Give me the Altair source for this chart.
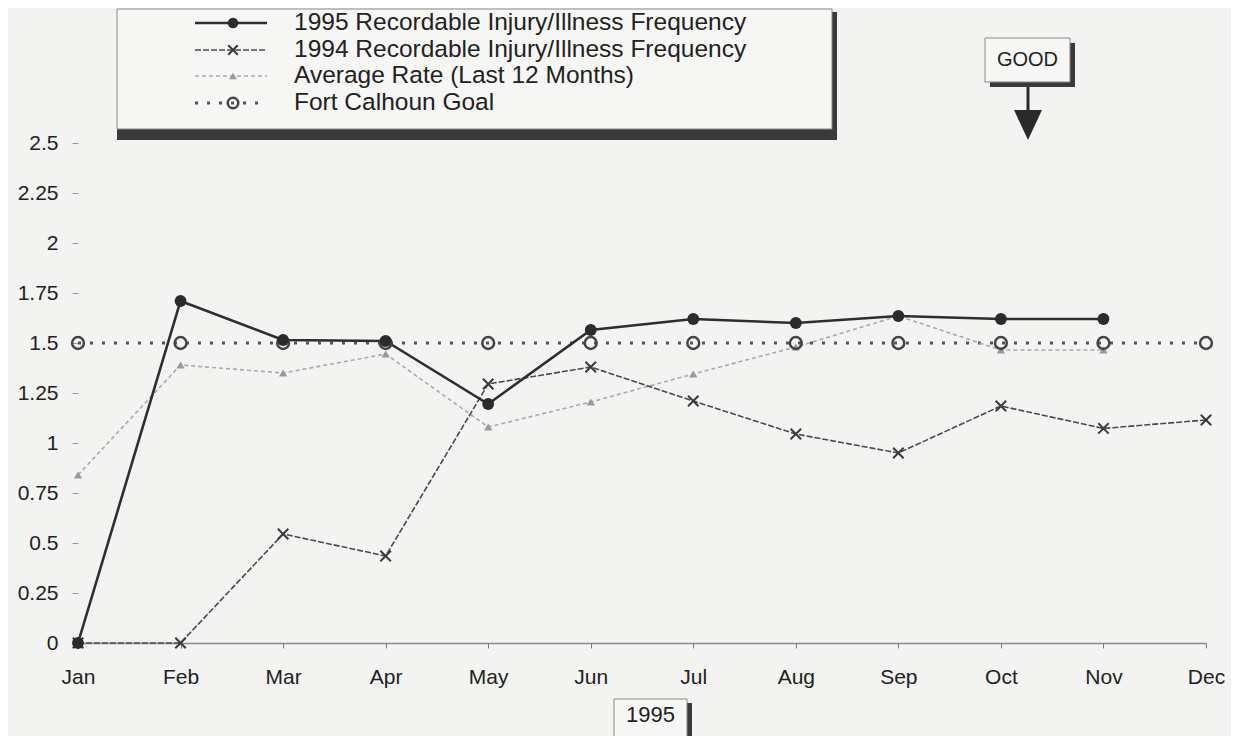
import altair as alt
import pandas as pd

months = ["Jan", "Feb", "Mar", "Apr", "May", "Jun", "Jul", "Aug", "Sep", "Oct", "Nov", "Dec"]
rate_1995 = [0.0, 1.71, 1.515, 1.51, 1.195, 1.565, 1.62, 1.60, 1.635, 1.62, 1.62]
rate_1994 = [0.0, 0.0, 0.545, 0.435, 1.295, 1.38, 1.21, 1.045, 0.95, 1.185, 1.073, 1.115]
avg_12 = [0.84, 1.39, 1.35, 1.445, 1.08, 1.205, 1.345, 1.48, 1.635, 1.465, 1.465]
goal = [1.5, 1.5, 1.5, 1.5, 1.5, 1.5, 1.5, 1.5, 1.5, 1.5, 1.5, 1.5]
y_ticks = [0, 0.25, 0.5, 0.75, 1, 1.25, 1.5, 1.75, 2, 2.25, 2.5]

legend_labels = [
    "1995 Recordable Injury/Illness Frequency",
    "1994 Recordable Injury/Illness Frequency",
    "Average Rate (Last 12 Months)",
    "Fort Calhoun Goal",
]
good_label = "GOOD"
year_label = "1995"

FONT = "Liberation Sans"
BG = "#f3f3f1"
TXT = "#222222"
XSHAPE = "M-1,-1L1,1M-1,1L1,-1"


def frame(vals):
    return pd.DataFrame({"month": months[: len(vals)], "value": vals})


W, H = 1128, 500

x_enc = alt.X("month:N", sort=months,
              scale=alt.Scale(type="point", domain=months, padding=0),
              axis=alt.Axis(title=None, labelAngle=0))
y_enc = alt.Y("value:Q", scale=alt.Scale(domain=[0, 2.5], nice=False, zero=True),
              axis=alt.Axis(title=None, values=y_ticks, format=".3~g"))

goal_line = alt.Chart(frame(goal)).mark_line(
    color="#555", strokeWidth=3, strokeDash=[3, 9]).encode(x=x_enc, y=y_enc)
goal_pts = alt.Chart(frame(goal)).mark_point(
    shape="circle", filled=False, color="#444", strokeWidth=2.5, size=140, opacity=1
).encode(x=x_enc, y=y_enc)

avg_line = alt.Chart(frame(avg_12)).mark_line(
    color="#a9a9a9", strokeWidth=1.6, strokeDash=[4, 3]).encode(x=x_enc, y=y_enc)
avg_pts = alt.Chart(frame(avg_12)).mark_point(
    shape="triangle-up", filled=True, color="#9a9a9a", size=70, opacity=1
).encode(x=x_enc, y=y_enc)

l94_line = alt.Chart(frame(rate_1994)).mark_line(
    color="#4a4a4a", strokeWidth=1.6, strokeDash=[6, 2]).encode(x=x_enc, y=y_enc)
l94_pts = alt.Chart(frame(rate_1994)).mark_point(
    shape=XSHAPE, filled=False, color="#3a3a3a", strokeWidth=2, size=110, opacity=1
).encode(x=x_enc, y=y_enc)

l95_line = alt.Chart(frame(rate_1995)).mark_line(
    color="#2e2e2e", strokeWidth=2.6).encode(x=x_enc, y=y_enc)
l95_pts = alt.Chart(frame(rate_1995)).mark_point(
    shape="circle", filled=True, color="#2b2b2b", size=140, opacity=1
).encode(x=x_enc, y=y_enc)

one = alt.Data(values=[{}])


def rect(x1, x2, y1, y2, fill, stroke=None, sw=0):
    kw = dict(fill=fill)
    if stroke:
        kw.update(stroke=stroke, strokeWidth=sw)
    return alt.Chart(one).mark_rect(**kw).encode(
        x=alt.value(x1), x2=alt.value(x2), y=alt.value(y1), y2=alt.value(y2))


def rule(x1, x2, y1, y2, color, sw, dash=None):
    kw = dict(color=color, strokeWidth=sw)
    if dash:
        kw.update(strokeDash=dash)
    return alt.Chart(one).mark_rule(**kw).encode(
        x=alt.value(x1), x2=alt.value(x2), y=alt.value(y1), y2=alt.value(y2))


def sym(x, y, **kw):
    return alt.Chart(one).mark_point(opacity=1, **kw).encode(x=alt.value(x), y=alt.value(y))


def txt(x, y, s, size, align="left"):
    return alt.Chart(one).mark_text(
        font=FONT, fontSize=size, color=TXT, align=align, baseline="middle"
    ).encode(x=alt.value(x), y=alt.value(y), text=alt.value(s))


# legend box
leg = [
    rect(39, 759, -131, -3, "#3a3a3a"),
    rect(39, 754, -134, -14, "#f6f6f4", "#888", 1),
]
rows_y = [-120, -93, -67, -40]
lx1, lx2, lxm, ltx = 117, 189, 155, 216
leg += [
    rule(lx1, lx2, rows_y[0], rows_y[0], "#2e2e2e", 2.6),
    sym(lxm, rows_y[0], shape="circle", filled=True, color="#2b2b2b", size=110),
    rule(lx1, lx2, rows_y[1], rows_y[1], "#4a4a4a", 1.6, [6, 2]),
    sym(lxm, rows_y[1], shape=XSHAPE, filled=False, color="#3a3a3a", strokeWidth=2, size=90),
    rule(lx1, lx2, rows_y[2], rows_y[2], "#a9a9a9", 1.6, [4, 3]),
    sym(lxm, rows_y[2], shape="triangle-up", filled=True, color="#9a9a9a", size=60),
    rule(lx1, lx2, rows_y[3], rows_y[3], "#555", 3, [3, 9]),
    sym(lxm, rows_y[3], shape="circle", filled=False, color="#444", strokeWidth=2.5, size=110),
]
for yy, lab in zip(rows_y, legend_labels):
    leg.append(txt(ltx, yy, lab, 24.5))

# GOOD box + arrow
good = [
    rect(912, 997, -100, -56, "#3a3a3a"),
    rect(907, 992, -105, -61, "#f6f6f4", "#888", 1),
    txt(949.5, -83, good_label, 20, "center"),
    rule(950, 950, -56, -32, "#2a2a2a", 3),
    sym(950, -18, shape="M-0.93,-1L0.93,-1L0,1Z", filled=True, color="#2a2a2a", size=900),
]

# 1995 year box
year = [
    rect(540, 614, 560, 640, "#3a3a3a"),
    rect(536, 609, 556, 640, "#f6f6f4", "#888", 1),
    txt(572.5, 572, year_label, 22, "center"),
]

chart = alt.layer(
    goal_line, avg_line, l94_line, l95_line,
    avg_pts, goal_pts, l94_pts, l95_pts,
    *leg, *good, *year,
).properties(
    width=W, height=H,
    autosize=alt.AutoSizeParams(type="none"),
    padding={"left": 70, "top": 135, "right": 25, "bottom": 93},
    background=BG,
).configure_view(
    stroke=None
).configure_axis(
    grid=False, labelFont=FONT, labelColor=TXT,
).configure_axisX(
    domainColor="#888", domainWidth=1.5, tickColor="#777", tickSize=5,
    labelFontSize=21, labelPadding=18,
).configure_axisY(
    domain=False, tickColor="#999", tickSize=6, labelFontSize=21, labelPadding=14,
)

chart.save("out.html", embed_options={"renderer": "svg", "actions": False})
